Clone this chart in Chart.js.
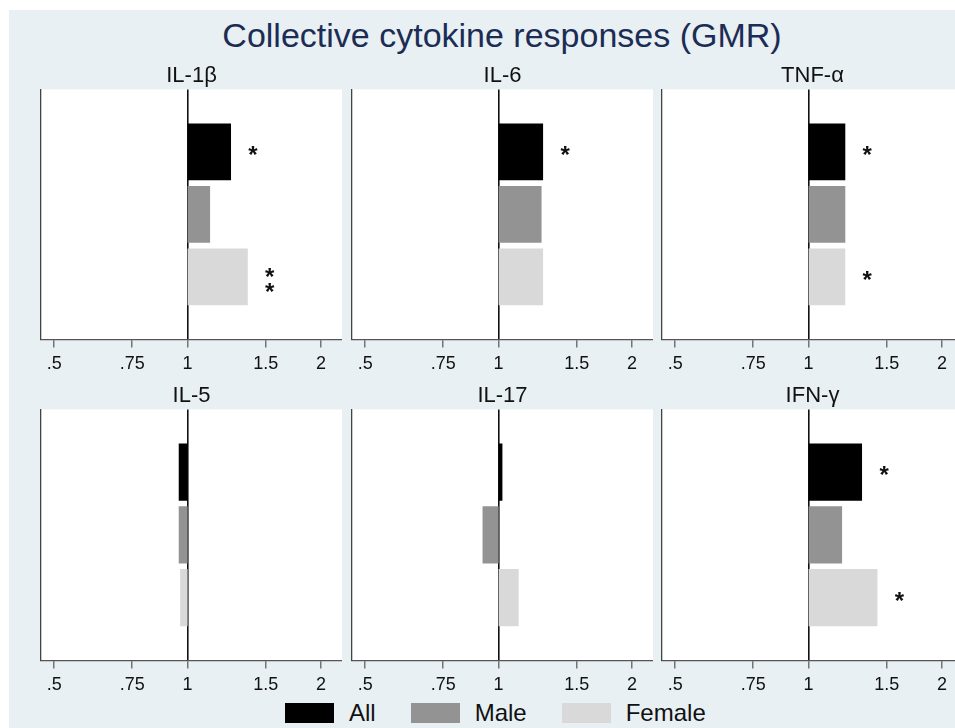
<!DOCTYPE html>
<html><head><meta charset="utf-8">
<script src="https://cdn.jsdelivr.net/npm/chart.js@4/dist/chart.umd.min.js"></script>
<style>
html,body{margin:0;padding:0;width:955px;height:728px;overflow:hidden;background:#fff;font-family:"Liberation Sans",Arial,sans-serif;}
#bg{position:absolute;left:9px;top:10px;width:946px;height:718px;background:#e9f0f3;}
#title{position:absolute;left:502px;top:15px;transform:translateX(-50%);white-space:nowrap;font-size:34px;line-height:40px;color:#1c2d55;}
.panel{position:absolute;}
#legend{position:absolute;left:285px;top:700px;display:flex;align-items:center;height:26px;}
.lb{width:49px;height:20px;margin-right:15px;}
.lt{font-size:24px;margin-right:35px;color:#111;line-height:26px;}
</style></head>
<body>
<div id="bg"></div>
<div id="title"></div>
<div id="legend"></div>
<script>
// ---- data ----
const figureTitle = 'Collective cytokine responses (GMR)';
const panelNames = ['IL-1β', 'IL-6', 'TNF-α', 'IL-5', 'IL-17', 'IFN-γ'];
const groups = ['All', 'Male', 'Female'];
const gmrAll    = [1.253, 1.26, 1.21, 0.955, 1.02, 1.32];
const gmrMale   = [1.124, 1.25, 1.21, 0.955, 0.92, 1.19];
const gmrFemale = [1.367, 1.26, 1.21, 0.962, 1.11, 1.43];
const sigAll    = ['*', '*', '*', '', '', '*'];
const sigMale   = ['', '', '', '', '', ''];
const sigFemale = ['**', '', '*', '', '', '*'];
const tickValues = [0.5, 0.75, 1, 1.5, 2];
const tickLabels = ['.5', '.75', '1', '1.5', '2'];
const groupColors = ['#000000', '#939393', '#d9d9d9'];

// ---- page ----
document.getElementById('title').textContent = figureTitle;
const legend = document.getElementById('legend');
groups.forEach((g, i) => {
  const b = document.createElement('div'); b.className = 'lb'; b.style.background = groupColors[i];
  const t = document.createElement('div'); t.className = 'lt'; t.textContent = g;
  legend.appendChild(b); legend.appendChild(t);
});

Chart.defaults.font.family = '"Liberation Sans", Arial, sans-serif';
Chart.defaults.color = '#111';

const whiteArea = {
  id: 'whiteArea',
  beforeDraw(chart) {
    const a = chart.chartArea, c = chart.ctx;
    c.save(); c.fillStyle = '#ffffff';
    c.fillRect(a.left, a.top, a.right - a.left, a.bottom - a.top);
    c.restore();
  }
};
const stars = {
  id: 'stars',
  afterDraw(chart) {
    const c = chart.ctx;
    c.save();
    c.font = 'bold 24px "Liberation Sans", Arial, sans-serif';
    c.fillStyle = '#111';
    c.textAlign = 'center';
    c.textBaseline = 'alphabetic';
    chart.data.datasets.forEach((ds, di) => {
      if (!ds.sig) return;
      const el = chart.getDatasetMeta(di).data[0];
      if (!el) return;
      const xEnd = Math.max(el.x, el.base);
      const chars = ds.sig.split('');
      chars.forEach((ch, k) => {
        const yc = el.y + (k - (chars.length - 1) / 2) * 15 + (chars.length > 1 ? 2 : -3);
        c.fillText(ch, xEnd + 22, yc + 14);
      });
    });
    c.restore();
  }
};

const colLefts = [39, 349.5, 660];
const rowTops = [63, 383];
const rowHeights = [318, 319];
const seriesVals = [gmrAll, gmrMale, gmrFemale];
const seriesSig = [sigAll, sigMale, sigFemale];
const catLabels = [' ', ...groups, '  '];

panelNames.forEach((name, p) => {
  const col = p % 3, row = Math.floor(p / 3);
  const cv = document.createElement('canvas');
  cv.className = 'panel';
  cv.width = 303; cv.height = rowHeights[row];
  cv.style.left = colLefts[col] + 'px';
  cv.style.top = rowTops[row] + 'px';
  cv.style.width = '303px'; cv.style.height = rowHeights[row] + 'px';
  document.body.appendChild(cv);
  new Chart(cv, {
    type: 'bar',
    data: {
      labels: catLabels,
      datasets: groups.map((g, i) => ({
        label: g,
        data: [{ y: g, x: [1, seriesVals[i][p]] }],
        backgroundColor: groupColors[i],
        borderWidth: 0,
        grouped: false,
        categoryPercentage: 1,
        barPercentage: 0.91,
        sig: seriesSig[i][p]
      }))
    },
    options: {
      indexAxis: 'y',
      responsive: false,
      animation: false,
      devicePixelRatio: 1,
      layout: { padding: { left: 2, right: 0, top: 0, bottom: 0 } },
      plugins: {
        legend: { display: false },
        tooltip: { enabled: false },
        title: {
          display: true, text: name, color: '#111',
          font: { size: 22, weight: 'normal', lineHeight: 1.2 },
          padding: { top: 0, bottom: 0 }
        }
      },
      scales: {
        x: {
          type: 'logarithmic',
          min: 0.467, max: 2.23,
          z: 1,
          afterBuildTicks: (s) => { s.ticks = tickValues.map(v => ({ value: v })); },
          ticks: {
            autoSkip: false, maxRotation: 0, minRotation: 0,
            padding: 6, color: '#111',
            font: { size: 18, lineHeight: 1.2 },
            callback: (v, i) => tickLabels[i]
          },
          grid: {
            drawOnChartArea: true, drawTicks: true, tickLength: 8,
            color: (ctx) => (ctx.tick && ctx.tick.value === 1) ? '#111' : 'rgba(0,0,0,0)',
            lineWidth: 1.6,
            tickColor: '#555', tickWidth: 1.2
          },
          border: { display: true, color: '#555', width: 1.2 }
        },
        y: {
          type: 'category',
          offset: false,
          ticks: { display: false },
          grid: { display: false, drawTicks: false },
          border: { display: true, color: '#444', width: 1.3 }
        }
      }
    },
    plugins: [whiteArea, stars]
  });
});
</script>
</body></html>
